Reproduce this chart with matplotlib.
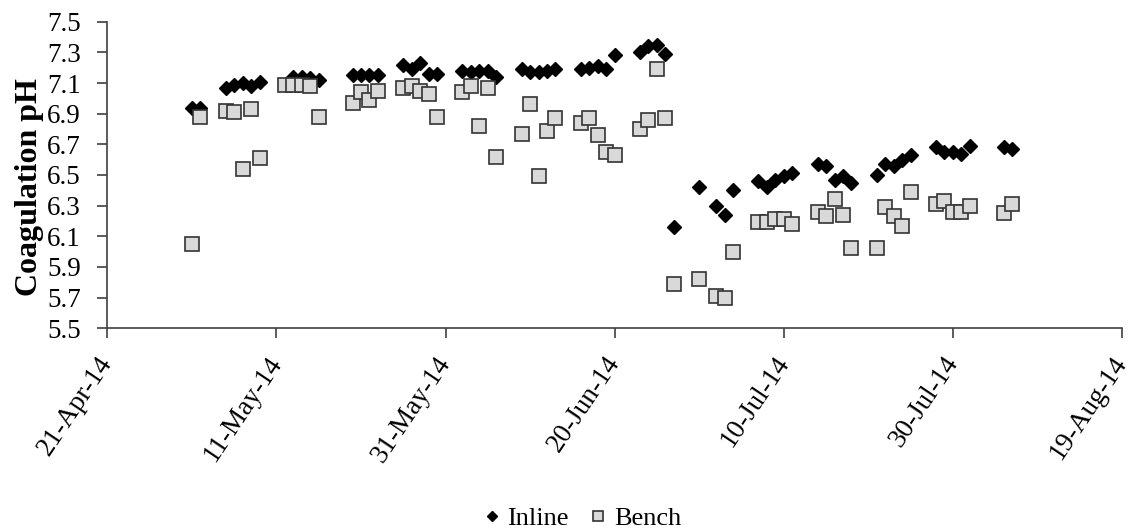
import pandas as pd
import matplotlib
matplotlib.use('Agg')
import matplotlib.pyplot as plt
import matplotlib.dates as mdates

plt.rcParams['font.family'] = ['Liberation Serif', 'DejaVu Serif']

# Inline readings (date, pH)
inline_dates = ['2014-05-01', '2014-05-02',
                '2014-05-05', '2014-05-06', '2014-05-07', '2014-05-08', '2014-05-09',
                '2014-05-13', '2014-05-14', '2014-05-15', '2014-05-16',
                '2014-05-20', '2014-05-21', '2014-05-22', '2014-05-23',
                '2014-05-26', '2014-05-27', '2014-05-28', '2014-05-29', '2014-05-30',
                '2014-06-02', '2014-06-03', '2014-06-04', '2014-06-05', '2014-06-06',
                '2014-06-09', '2014-06-10', '2014-06-11', '2014-06-12', '2014-06-13',
                '2014-06-16', '2014-06-17', '2014-06-18', '2014-06-19', '2014-06-20',
                '2014-06-23', '2014-06-24', '2014-06-25', '2014-06-26', '2014-06-27',
                '2014-06-30', '2014-07-02', '2014-07-03', '2014-07-04',
                '2014-07-07', '2014-07-08', '2014-07-09', '2014-07-10', '2014-07-11',
                '2014-07-14', '2014-07-15', '2014-07-16', '2014-07-17', '2014-07-18',
                '2014-07-21', '2014-07-22', '2014-07-23', '2014-07-24', '2014-07-25',
                '2014-07-28', '2014-07-29', '2014-07-30', '2014-07-31', '2014-08-01',
                '2014-08-05', '2014-08-06']
inline_ph = [6.94, 6.94,
             7.07, 7.09, 7.10, 7.08, 7.11,
             7.14, 7.14, 7.13, 7.12,
             7.15, 7.15, 7.15, 7.15,
             7.22, 7.19, 7.23, 7.16, 7.16,
             7.18, 7.17, 7.18, 7.18, 7.14,
             7.19, 7.17, 7.17, 7.18, 7.19,
             7.19, 7.20, 7.21, 7.19, 7.28,
             7.30, 7.34, 7.35, 7.29, 6.16,
             6.42, 6.30, 6.24, 6.40,
             6.46, 6.42, 6.47, 6.49, 6.51,
             6.57, 6.56, 6.47, 6.49, 6.45,
             6.50, 6.57, 6.56, 6.60, 6.63,
             6.68, 6.65, 6.65, 6.64, 6.69,
             6.68, 6.67]

# Bench readings (date, pH)
bench_dates = ['2014-05-01', '2014-05-02',
               '2014-05-05', '2014-05-06', '2014-05-07', '2014-05-08', '2014-05-09',
               '2014-05-12', '2014-05-13', '2014-05-14', '2014-05-15', '2014-05-16',
               '2014-05-20', '2014-05-21', '2014-05-22', '2014-05-23',
               '2014-05-26', '2014-05-27', '2014-05-28', '2014-05-29', '2014-05-30',
               '2014-06-02', '2014-06-03', '2014-06-04', '2014-06-05', '2014-06-06',
               '2014-06-09', '2014-06-10', '2014-06-11', '2014-06-12', '2014-06-13',
               '2014-06-16', '2014-06-17', '2014-06-18', '2014-06-19', '2014-06-20',
               '2014-06-23', '2014-06-24', '2014-06-25', '2014-06-26', '2014-06-27',
               '2014-06-30', '2014-07-02', '2014-07-03', '2014-07-04',
               '2014-07-07', '2014-07-08', '2014-07-09', '2014-07-10', '2014-07-11',
               '2014-07-14', '2014-07-15', '2014-07-16', '2014-07-17', '2014-07-18',
               '2014-07-21', '2014-07-22', '2014-07-23', '2014-07-24', '2014-07-25',
               '2014-07-28', '2014-07-29', '2014-07-30', '2014-07-31', '2014-08-01',
               '2014-08-05', '2014-08-06']
bench_ph = [6.05, 6.88,
            6.92, 6.91, 6.54, 6.93, 6.61,
            7.09, 7.09, 7.09, 7.08, 6.88,
            6.97, 7.04, 6.99, 7.05,
            7.07, 7.08, 7.05, 7.03, 6.88,
            7.04, 7.08, 6.82, 7.07, 6.62,
            6.77, 6.96, 6.49, 6.79, 6.87,
            6.84, 6.87, 6.76, 6.65, 6.63,
            6.80, 6.86, 7.19, 6.87, 5.79,
            5.82, 5.71, 5.70, 6.00,
            6.19, 6.19, 6.21, 6.21, 6.18,
            6.26, 6.23, 6.34, 6.24, 6.02,
            6.02, 6.29, 6.23, 6.17, 6.39,
            6.31, 6.33, 6.26, 6.26, 6.30,
            6.25, 6.31]

tick_dates = pd.date_range('2014-04-21', '2014-08-19', freq='20D')

fig = plt.figure(figsize=(11.37, 5.31), dpi=100)
ax = fig.add_axes([0.0944, 0.382, 0.8924, 0.577])

ax.plot(pd.to_datetime(inline_dates), inline_ph, linestyle='none', marker='D',
        markersize=7, color='black', markeredgecolor='black', label='Inline')
ax.plot(pd.to_datetime(bench_dates), bench_ph, linestyle='none', marker='s',
        markersize=9.5, markerfacecolor='#d9d9d9', markeredgecolor='#333333',
        markeredgewidth=1.2, label='Bench')

ax.set_xlim(tick_dates[0], tick_dates[-1])
ax.set_ylim(5.5, 7.5)
ax.set_yticks([5.5 + 0.2 * i for i in range(11)])
ax.yaxis.set_major_formatter(matplotlib.ticker.FormatStrFormatter('%.1f'))
ax.set_xticks(tick_dates)
ax.xaxis.set_major_formatter(mdates.DateFormatter('%d-%b-%y'))

for s in ['top', 'right']:
    ax.spines[s].set_visible(False)
for s in ['left', 'bottom']:
    ax.spines[s].set_color('#404040')
    ax.spines[s].set_linewidth(1.2)

ax.tick_params(axis='both', direction='out', length=7, width=1.2, color='#404040',
               labelsize=19.5)
ax.tick_params(axis='y', pad=12)
ax.tick_params(axis='x', pad=15)
plt.setp(ax.get_xticklabels(), rotation=56, ha='right', va='center',
         rotation_mode='anchor')

ax.set_ylabel('Coagulation pH', fontsize=23, fontweight='bold')
ax.yaxis.set_label_coords(-0.062, 0.46)

fig.legend(loc='center', bbox_to_anchor=(0.51, 0.024), ncol=2, frameon=False,
           fontsize=19, handletextpad=0.1, columnspacing=0.6, markerscale=0.75,
           handlelength=1.0)

fig.savefig('out.png', dpi=100)
